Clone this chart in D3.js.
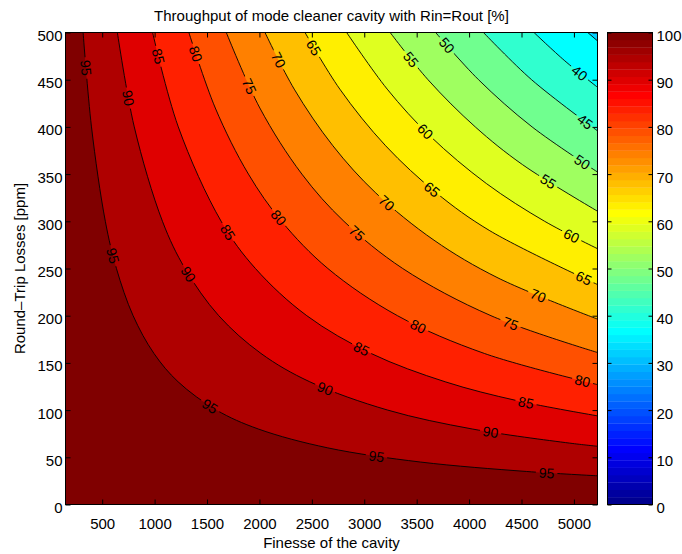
<!DOCTYPE html>
<html>
<head>
<meta charset="utf-8">
<script src="https://cdn.jsdelivr.net/npm/d3@7"></script>
<style>
  body { margin: 0; background: #fff; }
  text { font-family: "Liberation Sans", Arial, Helvetica, sans-serif; fill: #000; }
</style>
</head>
<body>
<div id="chart"></div>
<script>
// contour levels of the throughput [%]
var levels = [95, 90, 85, 80, 75, 70, 65, 60, 55, 50, 45, 40, 35];

// contour lines, [finesse, round-trip losses ppm]
var c95 = [[318,500],[398,400],[530,300],[636,250],[795,200],[994,160],[1224,130],[1591,100],[1989,80],[2652,60],[3535,45],[4546,35],[5225,30.4]];
var c90 = [[645,500],[806,400],[1075,300],[1290,250],[1612,200],[2015,160],[2480,130],[3224,100],[4030,80],[4961,65],[5225,61.7]];
var c85 = [[981,500],[1226,400],[1635,300],[1962,250],[2452,200],[3065,160],[3772,130],[4458,110],[5225,93.9]];
var c80 = [[1327,500],[1579,420],[1895,350],[2211,300],[2653,250],[3317,200],[4146,160],[5225,127]];
var c75 = [[1684,500],[2004,420],[2405,350],[2806,300],[3367,250],[4209,200],[5225,161]];
var c70 = [[2053,500],[2332,440],[2701,380],[3110,330],[3665,280],[4276,240],[5225,196.4]];
var c65 = [[2435,500],[2767,440],[3204,380],[3689,330],[4198,290],[5225,233]];
var c60 = [[2832,500],[3219,440],[3631,390],[4165,340],[4721,300],[5225,271]];
var c55 = [[3247,500],[3608,450],[4059,400],[4510,360],[5225,310.7]];
var c50 = [[3681,500],[4090,450],[4601,400],[5225,352.2]];
var c45 = [[4137,500],[4596,450],[5225,395.8]];
var c40 = [[4619,500],[4913,470],[5225,442]];
var c35 = [[5132,500],[5225,491.1]];
var contourLines = {95: c95, 90: c90, 85: c85, 80: c80, 75: c75, 70: c70, 65: c65,
                    60: c60, 55: c55, 50: c50, 45: c45, 40: c40, 35: c35};

// inline contour labels: [level, finesse, losses]
var labelSpots = [
  [95, 312, 462], [90, 722, 430], [85, 1008, 474], [80, 1362, 476], [75, 1868, 441],
  [70, 2147, 469], [65, 2516, 484], [55, 3442, 471], [50, 3776, 485], [40, 5054, 457],
  [45, 5083, 402], [50, 5074, 362], [60, 3585, 396], [55, 4759, 343], [65, 3652, 335],
  [60, 4969, 283], [70, 3203, 318], [65, 5093, 239], [85, 1677, 287], [80, 2154, 301],
  [75, 2927, 287], [70, 4654, 220], [95, 579, 263], [90, 1295, 242], [80, 3509, 187],
  [75, 4396, 192], [85, 2974, 165], [80, 5074, 128], [90, 2621, 121], [95, 1524, 103],
  [85, 4539, 107], [90, 4205, 76], [95, 3117, 50], [95, 4740, 31]
];

// tick values
var xTicks = [500, 1000, 1500, 2000, 2500, 3000, 3500, 4000, 4500, 5000];
var yTicks = [0, 50, 100, 150, 200, 250, 300, 350, 400, 450, 500];
var cTicks = [0, 10, 20, 30, 40, 50, 60, 70, 80, 90, 100];

var W = 682, H = 554;
var plot = {left: 65.5, right: 597.5, top: 32.5, bottom: 504.5};
var cbar = {left: 607.5, right: 652.5};

// matlab jet(64), i = 1..64
function jet64(i) {
  var r = 0, g = 0, b = 0;
  if (i <= 8) { b = (i + 8) / 16; }
  else if (i <= 24) { g = (i - 8) / 16; b = 1; }
  else if (i <= 40) { r = (i - 24) / 16; g = 1; b = (40 - i) / 16; }
  else if (i <= 56) { r = 1; g = (56 - i) / 16; }
  else { r = (72 - i) / 16; }
  return d3.rgb(Math.round(r * 255), Math.round(g * 255), Math.round(b * 255)).toString();
}
// colormap entry used for each filled band (above 95, 90-95, ... , below 35)
var bandIndex = {100: 64, 95: 61, 90: 58, 85: 54, 80: 51, 75: 48, 70: 44,
                 65: 41, 60: 38, 55: 34, 50: 31, 45: 27, 40: 24, 35: 21};

var svg = d3.select("#chart").append("svg")
    .attr("width", W)
    .attr("height", H);

var xScale = d3.scaleLinear().domain([150, 5225]).range([plot.left, plot.right]);
var yScale = d3.scaleLinear().domain([0, 500]).range([plot.bottom, plot.top]);
var cScale = d3.scaleLinear().domain([0, 100]).range([plot.bottom, plot.top]);

var defs = svg.append("defs");
defs.append("clipPath").attr("id", "plotclip")
  .append("rect")
    .attr("x", plot.left).attr("y", plot.top)
    .attr("width", plot.right - plot.left).attr("height", plot.bottom - plot.top);

var line = d3.line()
    .x(function(d) { return xScale(d[0]); })
    .y(function(d) { return yScale(d[1]); })
    .curve(d3.curveCatmullRom.alpha(0.5));

var area = svg.append("g").attr("clip-path", "url(#plotclip)");

// band above the highest level
area.append("rect")
    .attr("x", plot.left).attr("y", plot.top)
    .attr("width", plot.right - plot.left).attr("height", plot.bottom - plot.top)
    .attr("fill", jet64(bandIndex[100]));

// each level paints the region beyond it (lower throughput)
levels.forEach(function(c) {
  area.append("path")
    .attr("d", line(contourLines[c]) + "L" + xScale(5225) + "," + yScale(500) + "Z")
    .attr("fill", jet64(bandIndex[c]));
});

// contour lines, with gaps where labels sit
var mask = defs.append("mask").attr("id", "lblmask")
    .attr("maskUnits", "userSpaceOnUse")
    .attr("x", 0).attr("y", 0).attr("width", W).attr("height", H);
mask.append("rect").attr("x", 0).attr("y", 0).attr("width", W).attr("height", H).attr("fill", "#fff");

var linesG = area.append("g").attr("mask", "url(#lblmask)");
var paths = {};
levels.forEach(function(c) {
  paths[c] = linesG.append("path")
    .attr("d", line(contourLines[c]))
    .attr("fill", "none")
    .attr("stroke", "#000")
    .attr("stroke-width", 0.9)
    .node();
});

// place labels on the nearest point of their contour
var labelsG = svg.append("g").attr("clip-path", "url(#plotclip)");
labelSpots.forEach(function(s) {
  var p = paths[s[0]], len = p.getTotalLength();
  var tx = xScale(s[1]), ty = yScale(s[2]);
  var best = 0, bestD = Infinity;
  for (var t = 0; t <= len; t += 0.5) {
    var q = p.getPointAtLength(t);
    var dd = (q.x - tx) * (q.x - tx) + (q.y - ty) * (q.y - ty);
    if (dd < bestD) { bestD = dd; best = t; }
  }
  var pt = p.getPointAtLength(best);
  var a = p.getPointAtLength(Math.max(0, best - 4)), b = p.getPointAtLength(Math.min(len, best + 4));
  var ang = Math.atan2(b.y - a.y, b.x - a.x) * 180 / Math.PI;
  if (ang > 90) ang -= 180;
  if (ang <= -90) ang += 180;
  var tr = "translate(" + pt.x + "," + pt.y + ") rotate(" + ang + ")";
  var txt = labelsG.append("text")
      .attr("transform", tr)
      .attr("text-anchor", "middle")
      .attr("dy", "0.36em")
      .style("font-size", "14px")
      .text(s[0]);
  var w = txt.node().getComputedTextLength() + 6;
  mask.append("rect")
      .attr("transform", tr)
      .attr("x", -w / 2).attr("y", -6)
      .attr("width", w).attr("height", 12)
      .attr("fill", "#000");
});

// axes with inward ticks
svg.append("g")
    .attr("transform", "translate(0," + plot.bottom + ")")
    .call(d3.axisBottom(xScale).tickValues(xTicks).tickSize(-5).tickPadding(14).tickFormat(d3.format("d")))
    .call(function(g) { g.select(".domain").remove(); });
svg.append("g")
    .attr("transform", "translate(0," + plot.top + ")")
    .call(d3.axisTop(xScale).tickValues(xTicks).tickSize(-5).tickFormat(""))
    .call(function(g) { g.select(".domain").remove(); });
svg.append("g")
    .attr("transform", "translate(" + plot.left + ",0)")
    .call(d3.axisLeft(yScale).tickValues(yTicks).tickSize(-5).tickPadding(3).tickFormat(d3.format("d")))
    .call(function(g) { g.select(".domain").remove(); g.selectAll("text").attr("dy", "0.53em"); });
svg.append("g")
    .attr("transform", "translate(" + plot.right + ",0)")
    .call(d3.axisRight(yScale).tickValues(yTicks).tickSize(-5).tickFormat(""))
    .call(function(g) { g.select(".domain").remove(); });

svg.selectAll(".tick text").style("font-size", "15px").style("font-family", null);
svg.selectAll(".tick line").attr("stroke", "#000");

svg.append("rect")
    .attr("x", plot.left).attr("y", plot.top)
    .attr("width", plot.right - plot.left).attr("height", plot.bottom - plot.top)
    .attr("fill", "none").attr("stroke", "#000").attr("stroke-width", 1);

// colorbar
var cb = svg.append("g");
d3.range(1, 65).forEach(function(i) {
  var v0 = (i - 1) / 64 * 100, v1 = i / 64 * 100;
  cb.append("rect")
    .attr("x", cbar.left).attr("y", cScale(v1))
    .attr("width", cbar.right - cbar.left).attr("height", cScale(v0) - cScale(v1) + 0.3)
    .attr("fill", jet64(i));
});
cb.append("g")
    .attr("transform", "translate(" + cbar.right + ",0)")
    .call(d3.axisRight(cScale).tickValues(cTicks).tickSize(-4).tickPadding(4))
    .call(function(g) { g.select(".domain").remove(); g.selectAll("text").attr("dy", "0.53em"); });
cb.append("g")
    .attr("transform", "translate(" + cbar.left + ",0)")
    .call(d3.axisLeft(cScale).tickValues(cTicks).tickSize(-4).tickFormat(""))
    .call(function(g) { g.select(".domain").remove(); });
cb.selectAll(".tick text").style("font-size", "15px").style("font-family", null);
cb.selectAll(".tick line").attr("stroke", "#000");
cb.append("rect")
    .attr("x", cbar.left).attr("y", plot.top)
    .attr("width", cbar.right - cbar.left).attr("height", plot.bottom - plot.top)
    .attr("fill", "none").attr("stroke", "#000").attr("stroke-width", 1);

// titles
svg.append("text")
    .attr("x", (plot.left + plot.right) / 2).attr("y", 21)
    .attr("text-anchor", "middle")
    .style("font-size", "15px")
    .text("Throughput of mode cleaner cavity with Rin=Rout [%]");
svg.append("text")
    .attr("x", (plot.left + plot.right) / 2).attr("y", 548)
    .attr("text-anchor", "middle")
    .style("font-size", "15px")
    .text("Finesse of the cavity");
svg.append("text")
    .attr("transform", "translate(25," + (plot.top + plot.bottom) / 2 + ") rotate(-90)")
    .attr("text-anchor", "middle")
    .style("font-size", "15px")
    .text("Round\u2013Trip Losses [ppm]");
</script>
</body>
</html>
